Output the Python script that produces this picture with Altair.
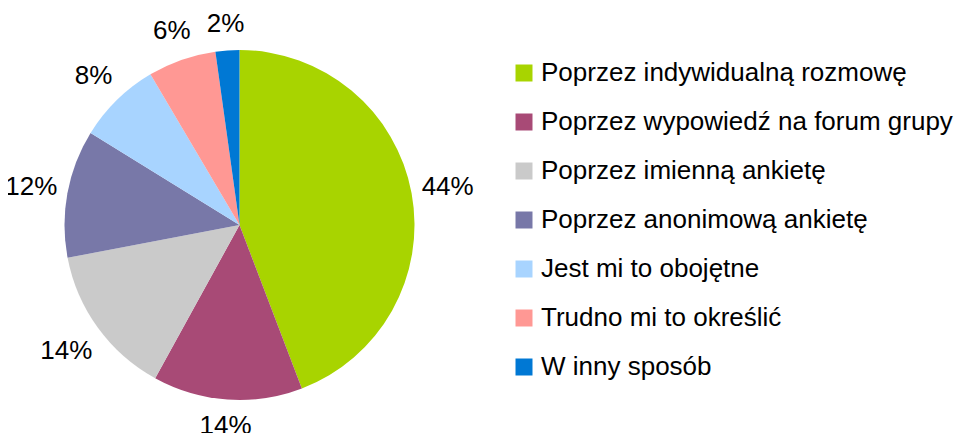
import altair as alt
import pandas as pd
import math

categories = [
    "Poprzez indywidualną rozmowę",
    "Poprzez wypowiedź na forum grupy",
    "Poprzez imienną ankietę",
    "Poprzez anonimową ankietę",
    "Jest mi to obojętne",
    "Trudno mi to określić",
    "W inny sposób",
]
values = [44.2, 13.8, 14.0, 11.8, 7.7, 6.3, 2.2]
colors = ["#a8d400", "#a84a76", "#cacaca", "#7878a8", "#a8d4ff", "#ff9894", "#0078d4"]

df = pd.DataFrame({
    "cat": categories,
    "val": values,
    "order": list(range(len(categories))),
})
df["label"] = [f"{round(v):.0f}%" for v in values]

CX, CY = 231.5, 217
R = 175
FONT = "Liberation Sans"
FS = 26

# label placement: outside end, like a spreadsheet chart (derived from the slice angle and text size)
total = sum(values)
cum = 0.0
radii, mids = [], []
for v, lab in zip(values, df["label"]):
    mid = (cum + v / 2) / total * 2 * math.pi
    cum += v
    hw = 0.5 * FS * (0.556 * (len(lab) - 1) + 0.889)
    hh = 17
    mids.append(mid)
    radii.append(R + 8 + abs(math.sin(mid)) * hw + abs(math.cos(mid)) * hh)
df["mid"] = mids
df["lr"] = radii

pie = alt.Chart(df).mark_arc(outerRadius=R, stroke=None).encode(
    theta=alt.Theta("val:Q", stack=True),
    order=alt.Order("order:Q"),
    x=alt.value(CX),
    y=alt.value(CY),
    color=alt.Color(
        "cat:N",
        scale=alt.Scale(domain=categories, range=colors),
        sort=categories,
        legend=alt.Legend(
            title=None,
            orient="none",
            legendX=503,
            legendY=52,
            symbolType="square",
            symbolSize=289,
            symbolStrokeWidth=0,
            labelFontSize=FS,
            labelFont=FONT,
            labelColor="#000000",
            labelOffset=4,
            rowPadding=23,
            labelLimit=600,
        ),
    ),
)

labels = alt.Chart(df).mark_text(fontSize=FS, font=FONT, color="#000000",
                                 align="center", baseline="middle").encode(
    x=alt.value(CX),
    y=alt.value(CY),
    theta=alt.Theta("mid:Q", scale=None),
    radius=alt.Radius("lr:Q", scale=None),
    text="label:N",
)

chart = (pie + labels).properties(
    width=952, height=425,
    autosize=alt.AutoSizeParams(type="none"),
    padding=0,
).configure_view(stroke=None)

chart.save("out.html", embed_options={"renderer": "svg", "actions": False})
